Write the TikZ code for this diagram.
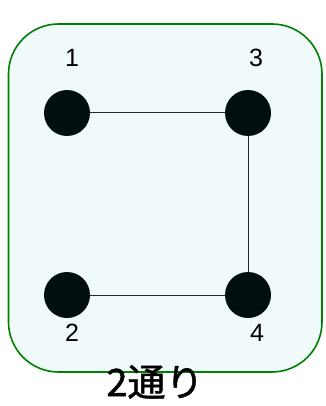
\documentclass[tikz,border=0pt]{standalone}
\usepackage{fontspec}
\setmainfont{Liberation Sans}
\newfontfamily\cjk[FakeBold=1.2]{Noto Sans CJK JP}
\definecolor{boxfill}{HTML}{F0FAFA}
\definecolor{boxline}{HTML}{008000}
\definecolor{dotfill}{HTML}{020F0F}
\begin{document}
\begin{tikzpicture}[x=1pt,y=-1pt,
  vert/.style={circle,fill=dotfill,minimum size=46pt,inner sep=0pt},
  lbl/.style={font=\fontsize{25}{25}\selectfont,inner sep=0pt},
  edge/.style={draw=black!85,line width=1pt}]
\useasboundingbox (0,0) rectangle (325,406);
\draw[fill=boxfill,draw=boxline,line width=1.6pt,rounded corners=50pt] (8.5,24) rectangle (322,372);
\node[vert] (n1) at (67,113) {};
\node[vert] (n3) at (248,113) {};
\node[vert] (n2) at (67,295) {};
\node[vert] (n4) at (248,295) {};
\draw[edge] (n1) -- (n3);
\draw[edge] (n3) -- (n4);
\draw[edge] (n2) -- (n4);
\node[lbl] (l1) at (72,58) {1};
\node[lbl] (l3) at (256,58) {3};
\node[lbl] (l2) at (72,333) {2};
\node[lbl] (l4) at (257,333) {4};
\node[font=\cjk\fontsize{38}{38}\selectfont,inner sep=0pt] (t) at (155,382) {2通り};
\end{tikzpicture}
\end{document}
